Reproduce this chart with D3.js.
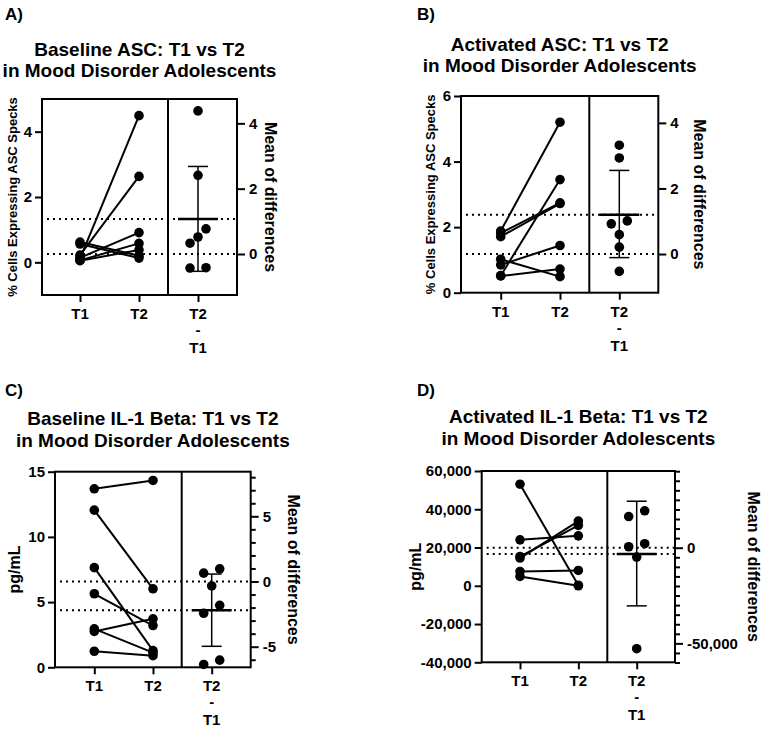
<!DOCTYPE html>
<html><head><meta charset="utf-8">
<script src="https://cdn.jsdelivr.net/npm/d3@7"></script>
<style>
body{margin:0;background:#fff}
svg{display:block}
text{font-family:"Liberation Sans",Arial,Helvetica,sans-serif;font-weight:bold;fill:#000}
</style></head>
<body><svg id="chart" width="763" height="729"></svg>
<script>
// ---------------- DATA ----------------
const panelLetters = ["A)", "B)", "C)", "D)"];
const titleLine1 = ["Baseline ASC: T1 vs T2", "Activated ASC: T1 vs T2", "Baseline IL-1 Beta: T1 vs T2", "Activated IL-1 Beta: T1 vs T2"];
const titleLine2 = ["in Mood Disorder Adolescents", "in Mood Disorder Adolescents", "in Mood Disorder Adolescents", "in Mood Disorder Adolescents"];
const yAxisTitles = ["% Cells Expressing ASC Specks", "% Cells Expressing ASC Specks", "pg/mL", "pg/mL"];
const rightAxisTitle = "Mean of differences";
const categories = ["T1", "T2", "T2 - T1"];

// paired values (T1 -> T2)
const baselineAscT1 = [0.11, 0.22, 0.14, 0.06, 0.05, 0.62, 0.56];
const baselineAscT2 = [4.49, 2.63, 0.91, 0.58, 0.38, 0.20, 0.13];
const activatedAscT1 = [1.88, 0.52, 1.82, 1.71, 0.85, 0.51, 1.02];
const activatedAscT2 = [5.20, 3.45, 2.74, 2.72, 1.44, 0.72, 0.49];
const baselineIl1T1 = [13.69, 12.05, 7.64, 5.64, 2.75, 2.95, 1.23];
const baselineIl1T2 = [14.33, 6.02, 1.28, 3.20, 3.72, 1.12, 0.89];
const activatedIl1T1 = [53100, 24000, 15300, 14500, 7500, 4900];
const activatedIl1T2 = [300, 26100, 31600, 33800, 8000, 0];

// summary values (per panel A-D)
const meanT1 = [0.255, 1.18, 6.58, 19900];
const meanDiff = [1.07, 1.20, -2.21, -3250];
const ciLow = [-0.53, -0.11, -4.97, -30400];
const ciHigh = [2.68, 2.55, 0.57, 24300];

// axes
const leftDomains = [[-1, 5], [0, 6], [0, 15], [-40000, 60000]];
const leftTicks = [[0, 2, 4], [0, 2, 4, 6], [0, 5, 10, 15], [-40000, -20000, 0, 20000, 40000, 60000]];
const rightTicks = [[0, 2, 4], [0, 2, 4], [-5, 0, 5], [-50000, 0]];
const rightMinorTicks = [[], [], [-6,-4,-3,-2,-1,1,2,3,4,6,7,8],
  [-60000,-55000,-45000,-40000,-35000,-30000,-25000,-20000,-15000,-10000,-5000,5000,10000,15000,20000,25000,30000,35000,40000]];

const pairsT1 = [baselineAscT1, activatedAscT1, baselineIl1T1, activatedIl1T1];
const pairsT2 = [baselineAscT2, activatedAscT2, baselineIl1T2, activatedIl1T2];

// ---------------- LAYOUT ----------------
const layout = [
  {x0:42, xDiv:168, x1:237, top:99, bottom:295, xT1:80, xD:198, lx:5, ly:20, t1y:56, t2y:76.7, yTitleX:12.5, rTitleX:271},
  {x0:461, xDiv:589.3, x1:658.3, top:96, bottom:292.7, xT1:500.7, xD:619.3, lx:417, ly:20, t1y:50.7, t2y:71.7, yTitleX:430, rTitleX:700},
  {x0:55, xDiv:181.7, x1:250.7, top:471.7, bottom:667.3, xT1:94.3, xD:211.7, lx:5, ly:396, t1y:425, t2y:446.7, yTitleX:14, rTitleX:294},
  {x0:481.7, xDiv:607.3, x1:675, top:471, bottom:662.3, xT1:520, xD:636.7, lx:417, ly:396, t1y:423.3, t2y:445, yTitleX:415, rTitleX:754}
];

const fmt = d3.formatLocale({decimal:".", thousands:",", grouping:[3], currency:["",""], minus:"-"}).format(",");
const svg = d3.select("#chart");
const R = 4.8;

function swarmOffsets(vals, ys, thr) {
  const idx = vals.map((v, i) => i).sort((a, b) => vals[a] - vals[b]);
  const groups = []; let cur = [idx[0]];
  for (let k = 1; k < idx.length; k++) {
    if (Math.abs(ys(vals[idx[k]]) - ys(vals[cur[cur.length - 1]])) < thr) cur.push(idx[k]);
    else { groups.push(cur); cur = [idx[k]]; }
  }
  groups.push(cur);
  const off = [];
  groups.forEach(g => {
    const n = g.length, sp = n === 2 ? 16 : 8;
    g.forEach((i, k) => off[i] = (k - (n - 1) / 2) * sp);
  });
  return off;
}

layout.forEach((L, p) => {
  const g = svg.append("g");
  const dom = leftDomains[p];
  const y = d3.scaleLinear().domain(dom).range([L.bottom, L.top]);
  const yR = d3.scaleLinear().domain([dom[0] - meanT1[p], dom[1] - meanT1[p]]).range([L.bottom, L.top]);
  const x = d3.scalePoint().domain(categories).range([L.xT1, L.xD]);

  // panel letter & titles
  g.append("text").attr("x", L.lx).attr("y", L.ly).style("font-size", "17px").text(panelLetters[p]);
  const cx = (L.x0 + L.x1) / 2;
  g.append("text").attr("x", cx).attr("y", L.t1y).attr("text-anchor", "middle").style("font-size", "19px").text(titleLine1[p]);
  g.append("text").attr("x", cx).attr("y", L.t2y).attr("text-anchor", "middle").style("font-size", "19px").text(titleLine2[p]);

  // dotted reference lines (T1 mean = 0 of right axis, and mean difference)
  [0, meanDiff[p]].forEach(v => {
    g.append("line").attr("x1", L.x0 + 5).attr("x2", L.x1).attr("y1", yR(v)).attr("y2", yR(v))
      .attr("stroke", "#000").attr("stroke-width", 2).attr("stroke-dasharray", "2,4");
  });

  // box and divider
  g.append("rect").attr("x", L.x0).attr("y", L.top).attr("width", L.x1 - L.x0).attr("height", L.bottom - L.top)
    .attr("fill", "none").attr("stroke", "#000").attr("stroke-width", 2);
  g.append("line").attr("x1", L.xDiv).attr("x2", L.xDiv).attr("y1", L.top).attr("y2", L.bottom)
    .attr("stroke", "#000").attr("stroke-width", 2);

  // left axis
  const la = g.append("g").attr("transform", `translate(${L.x0},0)`)
    .call(d3.axisLeft(y).tickValues(leftTicks[p]).tickSize(7).tickPadding(3).tickFormat(fmt));
  la.select(".domain").remove();
  la.selectAll("line").attr("stroke-width", 2);
  la.selectAll("text").style("font-size", "15px").attr("font-family", null);

  // right axis (major + minor)
  const ram = g.append("g").attr("transform", `translate(${L.x1},0)`)
    .call(d3.axisRight(yR).tickValues(rightMinorTicks[p]).tickSize(5).tickFormat(""));
  ram.select(".domain").remove();
  ram.selectAll("line").attr("stroke-width", 2);
  const ra = g.append("g").attr("transform", `translate(${L.x1},0)`)
    .call(d3.axisRight(yR).tickValues(rightTicks[p]).tickSize(8).tickPadding(4).tickFormat(fmt));
  ra.select(".domain").remove();
  ra.selectAll("line").attr("stroke-width", 2);
  ra.selectAll("text").style("font-size", "15px").attr("font-family", null);

  // bottom axis
  const ba = g.append("g").attr("transform", `translate(0,${L.bottom})`)
    .call(d3.axisBottom(x).tickSize(7).tickFormat(""));
  ba.select(".domain").remove();
  ba.selectAll("line").attr("stroke-width", 2);
  categories.forEach(c => {
    const parts = c.split(" ");
    const offs = [24, 40, 58];
    parts.forEach((t, i) => {
      g.append("text").attr("x", x(c)).attr("y", L.bottom + offs[i]).attr("text-anchor", "middle")
        .style("font-size", "15px").text(t);
    });
  });

  // axis titles
  const ymid = (L.top + L.bottom) / 2;
  g.append("text").attr("transform", `translate(${L.yTitleX},${ymid}) rotate(-90)`).attr("dy", "0.35em")
    .attr("text-anchor", "middle").style("font-size", p < 2 ? "13px" : "16px").text(yAxisTitles[p]);
  g.append("text").attr("transform", `translate(${L.rTitleX},${ymid}) rotate(90)`).attr("dy", "0.35em")
    .attr("text-anchor", "middle").style("font-size", "16px").text(rightAxisTitle);

  // paired lines & dots
  const t1 = pairsT1[p], t2 = pairsT2[p];
  const pairs = t1.map((v, i) => ({a: v, b: t2[i]}));
  g.selectAll(".pl").data(pairs).enter().append("line")
    .attr("x1", x("T1")).attr("x2", x("T2")).attr("y1", d => y(d.a)).attr("y2", d => y(d.b))
    .attr("stroke", "#000").attr("stroke-width", 2);
  g.selectAll(".d1").data(t1).enter().append("circle").attr("cx", x("T1")).attr("cy", d => y(d)).attr("r", R).attr("fill", "#000");
  g.selectAll(".d2").data(t2).enter().append("circle").attr("cx", x("T2")).attr("cy", d => y(d)).attr("r", R).attr("fill", "#000");

  // differences
  const diffs = pairs.map(d => d.b - d.a);
  const off = swarmOffsets(diffs, yR, 10);
  g.selectAll(".dd").data(diffs).enter().append("circle")
    .attr("cx", (d, i) => x("T2 - T1") + off[i]).attr("cy", d => yR(d)).attr("r", R).attr("fill", "#000");

  // error bar (95% CI) and mean
  const xd = x("T2 - T1");
  g.append("line").attr("x1", xd).attr("x2", xd).attr("y1", yR(ciLow[p])).attr("y2", yR(ciHigh[p])).attr("stroke", "#000").attr("stroke-width", 1.5);
  [ciLow[p], ciHigh[p]].forEach(v => g.append("line").attr("x1", xd - 10).attr("x2", xd + 10).attr("y1", yR(v)).attr("y2", yR(v)).attr("stroke", "#000").attr("stroke-width", 1.5));
  g.append("line").attr("x1", xd - 20).attr("x2", xd + 20).attr("y1", yR(meanDiff[p])).attr("y2", yR(meanDiff[p])).attr("stroke", "#000").attr("stroke-width", 2.5);
});
</script></body></html>
